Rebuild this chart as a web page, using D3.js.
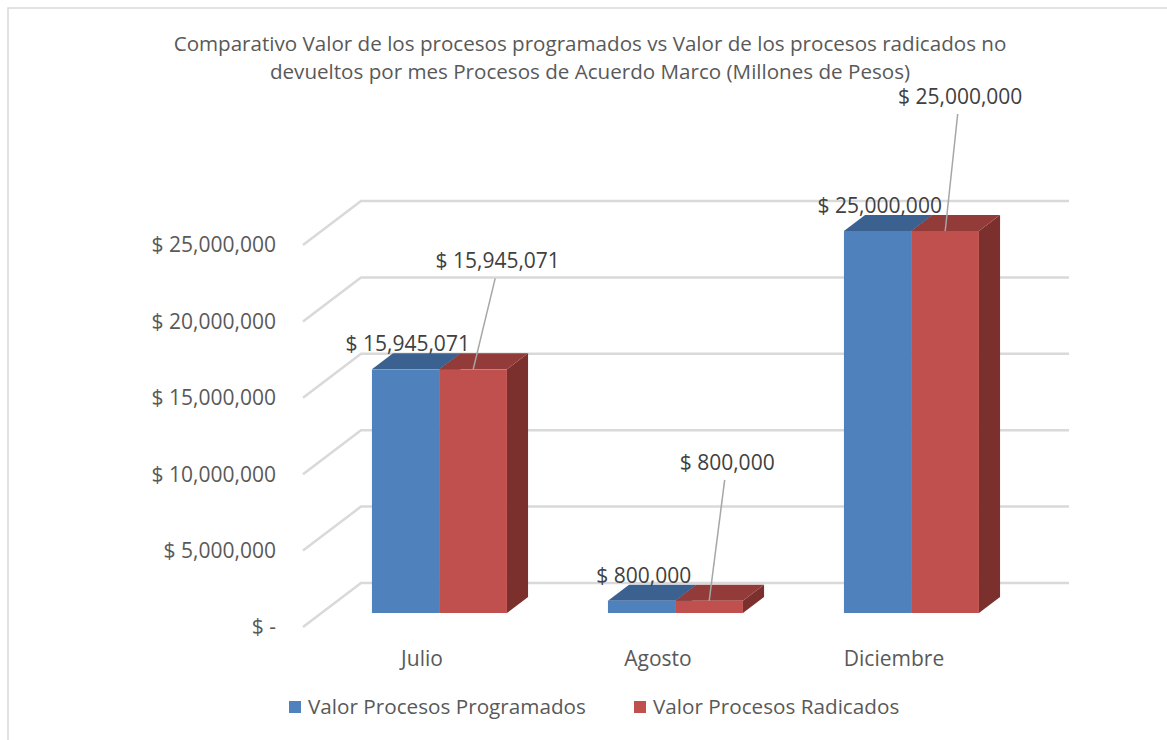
<!DOCTYPE html>
<html>
<head>
<meta charset="utf-8">
<script src="https://cdn.jsdelivr.net/npm/d3@7"></script>
<style>
  html, body { margin: 0; padding: 0; background: #fff; }
  svg { display: block; font-family: "Open Sans", "Noto Sans", sans-serif; }
</style>
</head>
<body>
<svg id="chart" width="1167" height="740"></svg>
<script>
// ---- data ----
const categories = ["Julio", "Agosto", "Diciembre"];
const seriesNames = ["Valor Procesos Programados", "Valor Procesos Radicados"];
const programados = [15945071, 800000, 25000000];
const radicados = [15945071, 800000, 25000000];
const yTicks = [0, 5000000, 10000000, 15000000, 20000000, 25000000];
const titleLines = [
  "Comparativo Valor de los procesos programados vs Valor de los procesos radicados no",
  "devueltos por mes Procesos de Acuerdo Marco (Millones de Pesos)"
];

// ---- layout / style ----
const W = 1167, H = 740;
const frontLeft = 303, frontRight = 1011;   // front edge of floor
const floorFrontY = 627;                    // zero line at the front of the floor
const depthDX = 58, depthDY = -44;          // full depth offset (front -> back wall)
const barT0 = 0.318, barT1 = 0.682;         // bar depth range
const colors = {
  front: ["#4F81BD", "#C0504D"],
  top:   ["#3B6190", "#933B39"],
  side:  ["#3A5F8A", "#7B302E"]
};
const gridColor = "#D9D9D9";
const textGray = "#595959";
const labelGray = "#404040";

const svg = d3.select("#chart");
svg.append("rect").attr("x", 8).attr("y", 8).attr("width", W + 10).attr("height", H + 10)
  .attr("fill", "#fff").attr("stroke", gridColor).attr("stroke-width", 1.5);

const x = d3.scaleBand().domain(categories).range([frontLeft, frontRight])
  .paddingInner(0.428).paddingOuter(0.214);
const xs = d3.scaleBand().domain([0, 1]).range([0, x.bandwidth()]);
const h = d3.scaleLinear().domain([0, 25000000]).range([0, 382]);

// projection: front-plane x, depth t (0 front, 1 back), value v
function P(px, t, v) {
  return [px + depthDX * t, floorFrontY + depthDY * t - h(v)];
}

// ---- title ----
const title = svg.append("text").attr("text-anchor", "middle").attr("fill", textGray)
  .style("font-size", "20.6px");
titleLines.forEach((l, i) => {
  title.append("tspan").attr("x", 590).attr("y", 51 + i * 28).text(l);
});

// ---- gridlines (back wall + left side wall) ----
const grid = svg.append("g");
yTicks.forEach(v => {
  const b0 = P(frontLeft, 1, v), b1 = P(frontRight, 1, v), f0 = P(frontLeft, 0, v);
  grid.append("path")
    .attr("d", `M${f0[0]},${f0[1]}L${b0[0]},${b0[1]}L${b1[0]},${b1[1]}`)
    .attr("fill", "none").attr("stroke", gridColor).attr("stroke-width", 2.5);
});

// ---- y tick labels ----
const fmt = v => v === 0 ? "$ -" : "$ " + d3.format(",")(v);
svg.append("g").selectAll("text").data(yTicks).join("text")
  .attr("x", 276).attr("y", v => P(frontLeft, 0, v)[1])
  .attr("dy", "0.35em").attr("text-anchor", "end")
  .attr("fill", textGray).style("font-size", "21px")
  .text(fmt);

// ---- category labels ----
svg.append("g").selectAll("text").data(categories).join("text")
  .attr("x", c => x(c) + x.bandwidth() / 2 + 1)
  .attr("y", 659).attr("dy", "0.35em").attr("text-anchor", "middle")
  .attr("fill", textGray).style("font-size", "21px")
  .text(c => c);

// ---- bars ----
const bars = [];
categories.forEach((c, i) => {
  [programados[i], radicados[i]].forEach((v, s) => {
    bars.push({ c, i, s, v, x0: x(c) + xs(s), x1: x(c) + xs(s) + xs.bandwidth() });
  });
});
const gBars = svg.append("g");
const poly = pts => "M" + pts.map(p => p.join(",")).join("L") + "Z";
bars.forEach(b => {
  const g = gBars.append("g");
  // side face (right)
  g.append("path").attr("d", poly([P(b.x1, barT0, 0), P(b.x1, barT1, 0), P(b.x1, barT1, b.v), P(b.x1, barT0, b.v)]))
    .attr("fill", colors.side[b.s]);
  // top face
  g.append("path").attr("d", poly([P(b.x0, barT0, b.v), P(b.x1, barT0, b.v), P(b.x1, barT1, b.v), P(b.x0, barT1, b.v)]))
    .attr("fill", colors.top[b.s]);
  // front face
  const f0 = P(b.x0, barT0, b.v), f1 = P(b.x1, barT0, 0);
  g.append("rect").attr("x", f0[0]).attr("y", f0[1])
    .attr("width", f1[0] - f0[0]).attr("height", f1[1] - f0[1])
    .attr("fill", colors.front[b.s]);
});

// ---- data labels ----
// offsets (px) of the moved labels of the second series, relative to the bar top centre
const movedLabelOffsets = [[24.5, -101], [18, -131], [15, -127]];
const gLab = svg.append("g");
bars.forEach(b => {
  const top = P((b.x0 + b.x1) / 2, barT0, b.v);
  if (b.s === 0) {
    gLab.append("text").attr("x", top[0] + 2).attr("y", top[1] - 18)
      .attr("text-anchor", "middle").attr("fill", labelGray).style("font-size", "21px")
      .text("$ " + d3.format(",")(b.v));
  } else {
    const [ox, oy] = movedLabelOffsets[b.i];
    const lx = top[0] + ox, ly = top[1] + oy;
    gLab.append("line").attr("x1", lx - 2.5).attr("y1", ly + 10).attr("x2", top[0]).attr("y2", top[1])
      .attr("stroke", "#A6A6A6").attr("stroke-width", 1.5);
    gLab.append("text").attr("x", lx).attr("y", ly)
      .attr("text-anchor", "middle").attr("fill", labelGray).style("font-size", "21px")
      .text("$ " + d3.format(",")(b.v));
  }
});

// ---- legend ----
const legendX = [289, 634];
const lg = svg.append("g");
seriesNames.forEach((n, s) => {
  lg.append("rect").attr("x", legendX[s]).attr("y", 701).attr("width", 12).attr("height", 12)
    .attr("fill", colors.front[s]);
  lg.append("text").attr("x", legendX[s] + 19).attr("y", 707).attr("dy", "0.35em")
    .attr("fill", textGray).style("font-size", "20.7px").text(n);
});
</script>
</body>
</html>
